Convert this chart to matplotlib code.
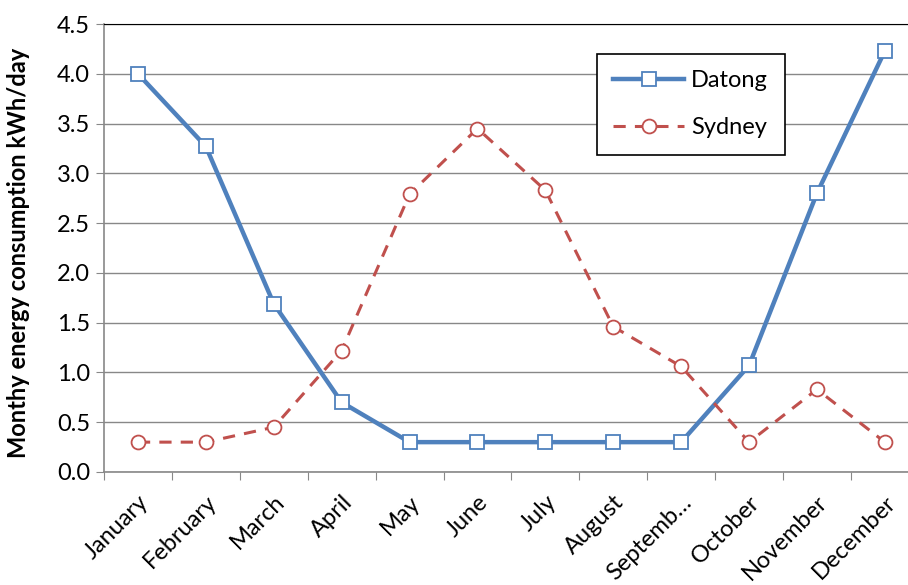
import numpy as np
import matplotlib.pyplot as plt

months = ['January', 'February', 'March', 'April', 'May', 'June', 'July',
          'August', 'Septemb\u2026', 'October', 'November', 'December']
datong = [4.0, 3.27, 1.69, 0.70, 0.30, 0.30, 0.30, 0.30, 0.30, 1.07, 2.80, 4.23]
sydney = [0.30, 0.30, 0.45, 1.22, 2.79, 3.45, 2.83, 1.46, 1.06, 0.30, 0.83, 0.30]
yticks = np.arange(0, 4.51, 0.5)

plt.rcParams['font.family'] = ['Lato', 'DejaVu Sans']

fig = plt.figure(figsize=(9.08, 5.85), dpi=100)
W, H = 908, 585
ax = fig.add_axes([104 / W, 1 - 472 / H, (908 - 104) / W, (472 - 24) / H])

x = np.arange(len(months))
ax.plot(x, datong, color='#4F81BD', lw=3.2, marker='s', ms=10,
        mfc='white', mec='#4F81BD', mew=1.3, label='Datong', zorder=3)
ax.plot(x, sydney, color='#C0504D', lw=2.2, ls=(0, (4, 3)), marker='o', ms=10,
        mfc='white', mec='#C0504D', mew=1.3, label='Sydney', zorder=3)

step = 67.9
ax.set_xlim(-0.5, -0.5 + (908 - 104) / step)
ax.set_ylim(0, 4.5)
ax.set_yticks(yticks)
ax.set_yticklabels([f'{v:.1f}' for v in yticks], fontsize=17)
ax.yaxis.grid(True, color='#888888', lw=1)
ax.set_axisbelow(True)

ax.set_xticks(x - 0.5, minor=False)
ax.set_xticklabels([])
ax.set_xticks(x, minor=True)
ax.set_xticklabels(months, minor=True, rotation=45, ha='right',
                   rotation_mode='anchor', fontsize=17)
ax.tick_params(axis='x', which='major', length=6, color='#888888')
ax.tick_params(axis='x', which='minor', length=0, pad=14)
ax.tick_params(axis='y', length=6, color='#888888', pad=4)

ax.spines['right'].set_visible(False)
ax.spines['top'].set_color('black')
ax.spines['left'].set_color('#888888')
ax.spines['bottom'].set_color('#888888')
ax.spines['left'].set_linewidth(1.2)
ax.spines['bottom'].set_linewidth(1.2)

ax.set_ylabel('Monthy energy consumption kWh/day', fontsize=17,
              fontweight='bold')
ax.yaxis.set_label_coords(-74 / (908 - 104), 0.49)

leg = ax.legend(loc='upper left', bbox_to_anchor=((585 - 104) / (908 - 104), 1 - (42 - 24) / 448),
                fontsize=17, frameon=True, fancybox=False, edgecolor='black',
                framealpha=1, handlelength=3.0, borderpad=0.7, labelspacing=1.1,
                handletextpad=0.3)
leg.get_frame().set_linewidth(1.2)

fig.savefig('out.png', dpi=100)
